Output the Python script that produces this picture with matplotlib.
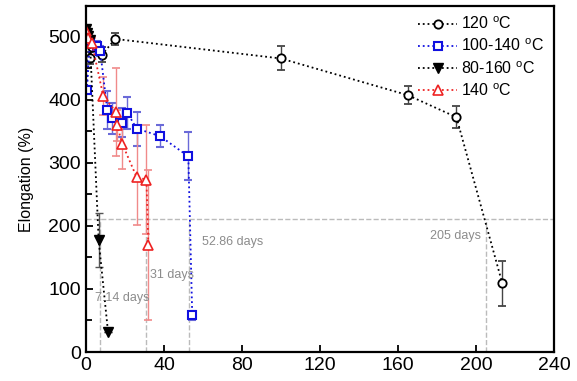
import numpy as np
import matplotlib.pyplot as plt
from matplotlib.ticker import MultipleLocator

plt.rcParams['font.family'] = ['Liberation Sans', 'DejaVu Sans']
plt.rcParams['mathtext.fontset'] = 'custom'
plt.rcParams['mathtext.rm'] = 'Liberation Sans'

# 120 C
t120 = [0, 2, 3, 8.2, 15, 100, 165, 190, 213.5]
e120 = [505, 466, 483, 471, 496, 465, 407, 372, 109]
s120 = [8, 10, 8, 12, 10, 19, 14, 17, 36]

# 100-140 C
t100 = [0, 0.5, 2, 5.5, 7.3, 10.9, 13.2, 18.3, 21.2, 26, 38, 52.5, 54.5]
e100 = [500, 415, 492, 484, 477, 384, 370, 363, 379, 354, 342, 310, 58]
s100 = [8, 6, 8, 8, 8, 30, 25, 23, 25, 27, 17, 38, 7]

# 80-160 C
t80 = [0, 0.5, 1, 2, 6.5, 11.3]
e80 = [512, 506, 500, 495, 177, 32]
s80 = [6, 6, 6, 6, 43, 0]

# 140 C
t140 = [0, 1, 3, 8.9, 15.5, 16, 18.6, 26, 31, 32]
e140 = [508, 498, 490, 405, 380, 359, 330, 277, 273, 169]
s140 = [6, 6, 8, 30, 70, 25, 40, 76, 86, 119]

# failure times at 210 % elongation
fail_t = [7.14, 31, 52.86, 205]
fail_lbl = ['7.14 days', '31 days', '52.86 days', '205 days']
lbl_x = [4.6, 33, 59.3, 176.5]
lbl_y = [85, 122, 175, 184]
e_half = 210

fig = plt.figure(figsize=(5.77, 3.81), dpi=100)
ax = fig.add_axes([0.149, 0.076, 0.811, 0.908])

ax.axhline(e_half, color='#bbbbbb', ls='--', lw=1, zorder=0)
for t in fail_t:
    ax.plot([t, t], [0, e_half], color='#bbbbbb', ls='--', lw=1, zorder=0)
for x, y, s in zip(lbl_x, lbl_y, fail_lbl):
    ax.text(x, y, s, color='#8c8c8c', fontsize=9, va='center')

c1 = ax.errorbar(t120, e120, yerr=s120, fmt='o:', color='black', mfc='white', mec='black',
                 ms=6, mew=1.3, lw=1.3, ecolor='#444444', elinewidth=1, capsize=3)
c2 = ax.errorbar(t100, e100, yerr=s100, fmt='s:', color='#1010e0', mfc='white', mec='#1010e0',
                 ms=5.5, mew=1.5, lw=1.3, ecolor='#6a6ad8', elinewidth=1, capsize=3)
c3 = ax.errorbar(t80, e80, yerr=s80, fmt='v:', color='black', mfc='black', mec='black',
                 ms=7, lw=1.3, ecolor='#555555', elinewidth=1, capsize=3)
c4 = ax.errorbar(t140, e140, yerr=s140, fmt='^:', color='#ee2222', mfc='white', mec='#ee2222',
                 ms=7, mew=1.2, lw=1.3, ecolor='#f08a8a', elinewidth=1, capsize=3)

ax.set_xlim(0, 240)
ax.set_ylim(0, 548)
ax.xaxis.set_major_locator(MultipleLocator(40))
ax.yaxis.set_major_locator(MultipleLocator(100))
ax.yaxis.set_minor_locator(MultipleLocator(50))
ax.tick_params(which='both', direction='in', labelsize=14, width=1.3)
ax.tick_params(which='major', length=5)
ax.tick_params(which='minor', length=4)
for sp in ax.spines.values():
    sp.set_linewidth(1.6)
ax.set_ylabel('Elongation (%)', fontsize=11.5, labelpad=10)

ax.legend([c1[0], c2[0], c3[0], c4[0]],
          ['120 $^{\\rm o}$C', '100-140 $^{\\rm o}$C', '80-160 $^{\\rm o}$C', '140 $^{\\rm o}$C'],
          loc='upper right', frameon=False, fontsize=11.5, handlelength=2.4,
          handletextpad=0.3, labelspacing=0.35, borderaxespad=0.2)

fig.savefig('out.png', dpi=100)
